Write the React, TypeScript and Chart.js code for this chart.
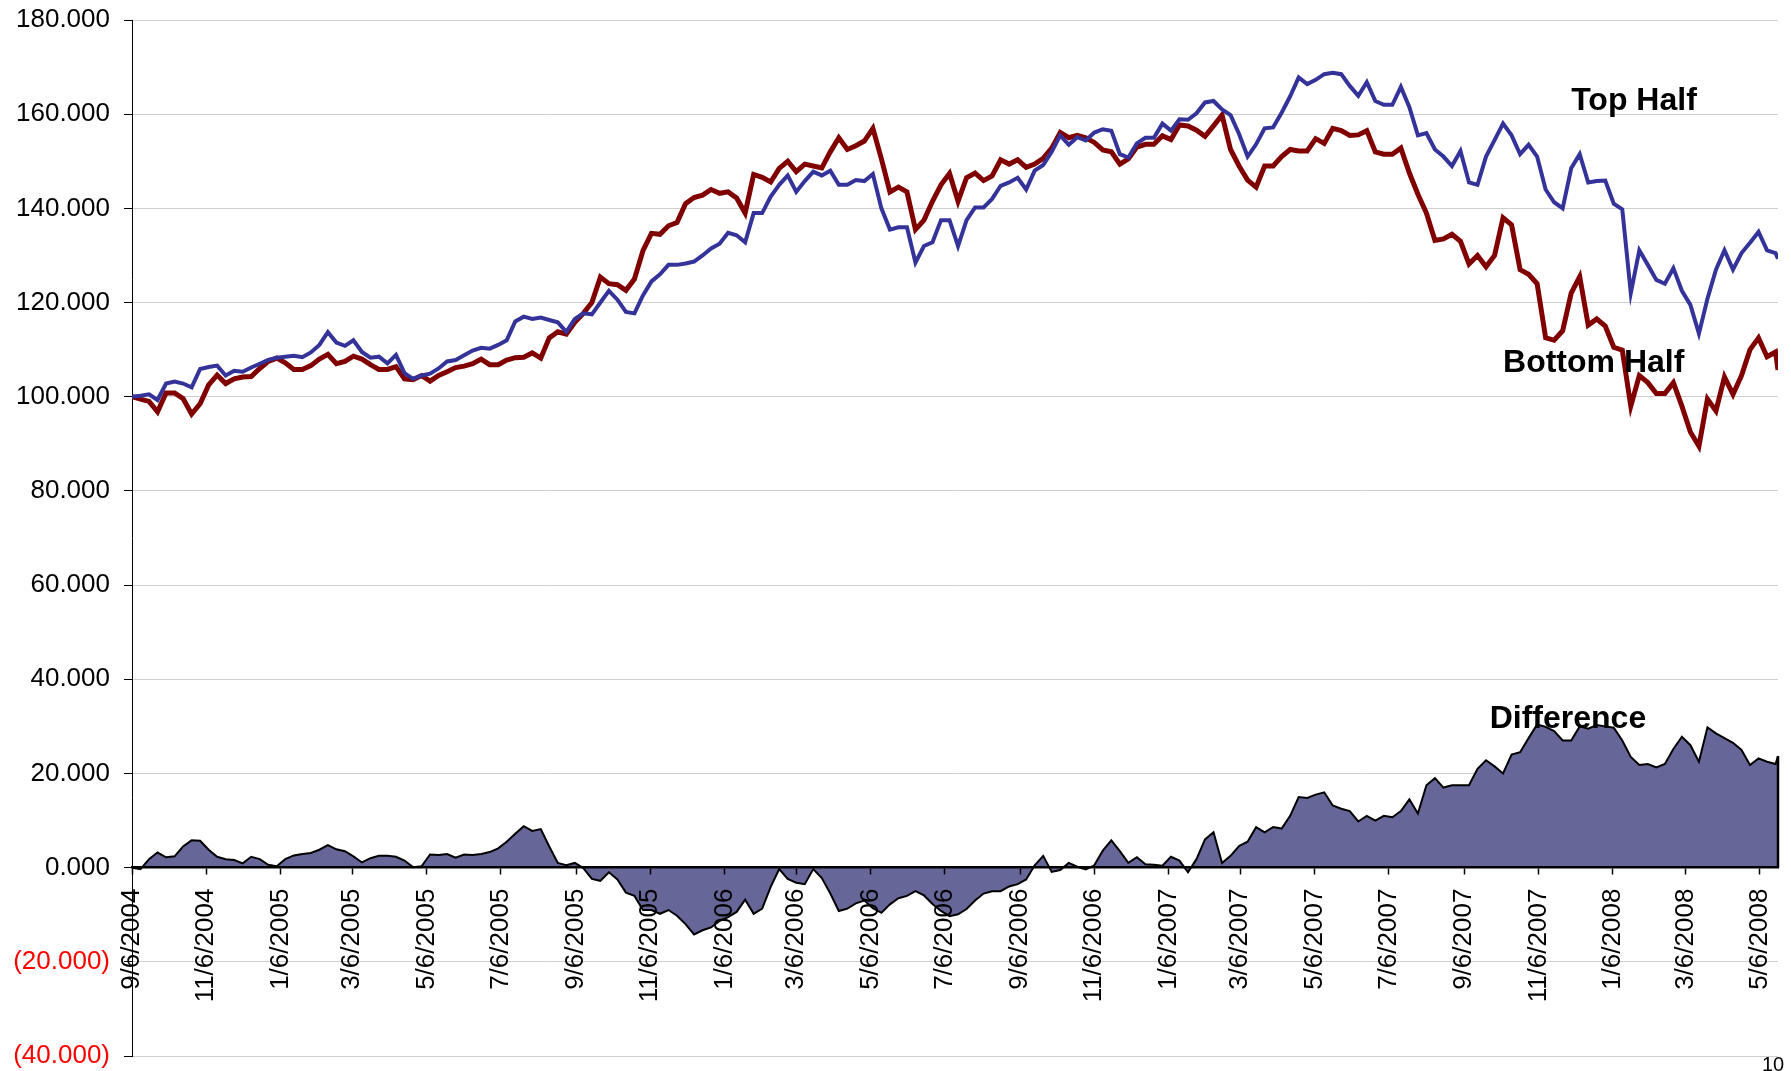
import React, { useEffect, useRef } from "react";
import { Chart, registerables } from "chart.js";

Chart.register(...registerables);

// ---------- data ----------
const START_DATE = "9/6/2004";
const WEEKLY_POINTS = 194; // one observation per week from START_DATE
const LAST_DATE = "5/21/2008"; // final observation

const TICK_LABELS = [
  "9/6/2004", "11/6/2004", "1/6/2005", "3/6/2005", "5/6/2005", "7/6/2005",
  "9/6/2005", "11/6/2005", "1/6/2006", "3/6/2006", "5/6/2006", "7/6/2006",
  "9/6/2006", "11/6/2006", "1/6/2007", "3/6/2007", "5/6/2007", "7/6/2007",
  "9/6/2007", "11/6/2007", "1/6/2008", "3/6/2008", "5/6/2008",
];

const TOP_HALF = [
  100.0, 100.2, 100.5, 99.3, 102.8, 103.2, 102.8, 102.0, 105.9, 106.3,
  106.6, 104.5, 105.5, 105.3, 106.2, 107.0, 107.8, 108.3, 108.5, 108.7,
  108.4, 109.4, 111.0, 113.7, 111.5, 110.8, 112.0, 109.5, 108.3, 108.5,
  107.1, 108.9, 105.0, 103.8, 104.5, 104.9, 106.0, 107.5, 107.8, 108.8,
  109.8, 110.4, 110.2, 111.0, 112.0, 116.0, 117.0, 116.5, 116.8, 116.3,
  115.8, 113.8, 116.5, 117.7, 117.5, 120.0, 122.5, 120.6, 118.0, 117.7,
  121.5, 124.5, 126.0, 128.0, 128.0, 128.3, 128.7, 130.0, 131.5, 132.5,
  134.8, 134.3, 132.8, 139.0, 139.0, 142.5, 145.0, 147.0, 143.5, 145.8,
  147.8, 147.0, 148.0, 145.0, 145.0, 146.0, 145.8, 147.3, 140.0, 135.5,
  136.0, 136.0, 128.5, 132.0, 132.8, 137.5, 137.5, 132.0, 137.5, 140.2,
  140.2, 142.0, 144.8, 145.5, 146.5, 144.0, 148.0, 149.2, 152.0, 155.5,
  153.5, 155.1, 154.4, 156.1, 156.8, 156.5, 151.5, 150.8, 153.8, 155.0,
  155.0, 158.0, 156.5, 158.9, 158.8, 160.2, 162.5, 162.8, 161.0, 159.8,
  155.8, 151.0, 153.6, 157.0, 157.2, 160.3, 163.8, 167.8, 166.4, 167.3,
  168.5, 168.8, 168.5, 166.0, 163.9, 166.8, 162.8, 162.0, 162.0, 165.8,
  161.5, 155.5, 156.0, 152.5, 151.0, 149.0, 152.2, 145.5, 145.0, 151.0,
  154.5, 158.0, 155.5, 151.5, 153.5, 151.0, 144.0, 141.3, 140.0, 148.5,
  151.5, 145.5, 145.8, 145.9, 141.0, 139.8, 122.0, 131.1, 128.0, 124.8,
  124.0, 127.3, 122.5, 119.5, 113.4, 120.8, 127.0, 131.1, 127.0, 130.5,
  132.7, 135.0, 131.1, 130.5,
  129.3,
];

const BOTTOM_HALF = [
  100.0, 99.5, 99.0, 96.8, 100.8, 100.8, 99.6, 96.3, 98.5, 102.5,
  104.6, 102.8, 103.8, 104.2, 104.3, 106.0, 107.5, 108.2, 107.2, 105.8,
  105.8, 106.6, 108.0, 109.0, 107.0, 107.5, 108.6, 108.0, 106.8, 105.8,
  105.8, 106.4, 103.8, 103.6, 104.5, 103.3, 104.5, 105.3, 106.2, 106.5,
  107.0, 108.0, 106.8, 106.8, 107.8, 108.3, 108.4, 109.3, 108.2, 112.5,
  113.8, 113.3, 115.8, 117.7, 120.0, 125.4, 124.0, 123.8, 122.6, 125.0,
  131.0, 134.7, 134.5, 136.3, 137.0, 141.0, 142.3, 142.8, 144.0, 143.2,
  143.5, 142.2, 139.0, 147.2, 146.6, 145.6, 148.5, 150.0, 147.8, 149.4,
  149.0, 148.6, 152.0, 155.0, 152.5, 153.3, 154.3, 157.0, 150.5, 143.5,
  144.5, 143.5, 135.5, 137.5, 141.5, 145.0, 147.4, 141.5, 146.5, 147.5,
  145.9, 146.9, 150.3, 149.4, 150.3, 148.7, 149.4, 150.6, 152.8, 156.1,
  155.0, 155.5, 155.0, 154.0, 152.4, 152.0, 149.4, 150.5, 153.0, 153.6,
  153.6, 155.4, 154.6, 157.7, 157.5, 156.6, 155.3, 157.5, 159.8, 152.5,
  149.0, 146.0, 144.5, 149.0, 149.0, 151.0, 152.5, 152.2, 152.2, 154.8,
  153.8, 157.0, 156.5, 155.5, 155.6, 156.5, 152.0, 151.5, 151.5, 152.8,
  147.5, 143.0, 139.0, 133.2, 133.5, 134.5, 133.0, 128.2, 130.0, 127.6,
  130.0, 138.0, 136.5, 127.0, 126.0, 124.0, 112.5, 112.0, 114.0, 122.0,
  125.5, 115.2, 116.5, 115.0, 110.5, 109.9, 98.0, 104.5, 103.0, 100.7,
  100.7, 103.0, 98.0, 92.5, 89.5, 99.5, 97.0, 104.2, 100.5, 104.5,
  110.0, 112.5, 108.5, 109.5,
  105.7,
];

const DIFFERENCE = [
  0.0, -0.3, 1.8, 3.2, 2.2, 2.4, 4.5, 5.8, 5.7, 3.8,
  2.3, 1.8, 1.6, 0.9, 2.3, 1.8, 0.6, 0.3, 1.8, 2.6,
  2.9, 3.1, 3.8, 4.8, 3.9, 3.5, 2.4, 1.1, 2.0, 2.5,
  2.5, 2.3, 1.5, 0.1, 0.3, 2.8, 2.7, 2.9, 2.1, 2.8,
  2.7, 2.9, 3.3, 4.1, 5.5, 7.2, 8.8, 7.8, 8.2, 4.5,
  1.0, 0.5, 1.0, -0.1, -2.4, -2.8, -1.0, -2.5, -5.3, -6.0,
  -9.0, -9.0, -9.8, -9.0, -10.2, -12.0, -14.2, -13.3, -12.7, -11.3,
  -10.5, -9.4, -6.8, -9.8, -8.7, -4.1, -0.3, -2.4, -3.2, -3.5,
  -0.3, -2.2, -5.5, -9.2, -8.7, -7.6, -7.0, -8.6, -9.6, -7.8,
  -6.5, -6.0, -5.0, -5.9, -7.7, -9.2, -10.3, -9.9, -8.8, -7.0,
  -5.5, -5.0, -5.0, -4.0, -3.5, -2.5, 0.5, 2.5, -0.9, -0.5,
  1.0, 0.2, -0.4, 0.5, 3.6, 5.8, 3.5, 1.0, 2.2, 0.7,
  0.6, 0.4, 2.3, 1.5, -1.0, 1.8, 6.0, 7.5, 1.0, 2.5,
  4.6, 5.5, 8.6, 7.5, 8.6, 8.3, 11.0, 15.0, 14.8, 15.5,
  16.0, 13.2, 12.5, 12.0, 9.8, 11.0, 10.0, 11.0, 10.7, 12.0,
  14.5, 11.5, 17.5, 19.0, 17.0, 17.5, 17.5, 17.5, 21.0, 22.8,
  21.5, 20.0, 24.0, 24.5, 27.5, 30.4, 29.9, 29.0, 27.0, 27.0,
  30.0, 29.5, 30.3, 30.0, 29.7, 27.0, 23.5, 21.8, 22.0, 21.3,
  22.0, 25.2, 27.8, 26.0, 22.5, 29.8, 28.5, 27.5, 26.5, 25.0,
  21.8, 23.2, 22.5, 22.0,
  23.7,
];

const Y_MIN = -40;
const Y_MAX = 180;
const Y_STEP = 20;

// series name labels, anchored in data units (date, value of text baseline)
const SERIES_LABELS = [
  { text: "Top Half", date: "12/3/2007", value: 160.9 },
  { text: "Bottom Half", date: "10/8/2007", value: 105.2 },
  { text: "Difference", date: "9/27/2007", value: 29.6 },
];

// ---------- helpers ----------
const MS_DAY = 86400000;
function parseDate(s: string): number {
  const [m, d, y] = s.split("/").map(Number);
  return Date.UTC(y, m - 1, d);
}
const START_MS = parseDate(START_DATE);
const toDay = (s: string) => Math.round((parseDate(s) - START_MS) / MS_DAY);

const SAMPLE_DAYS: number[] = [];
for (let i = 0; i < WEEKLY_POINTS; i++) SAMPLE_DAYS.push(i * 7);
SAMPLE_DAYS.push(toDay(LAST_DATE));

const TICK_DAYS = TICK_LABELS.map(toDay);

const pts = (vals: number[]) => vals.map((v, i) => ({ x: SAMPLE_DAYS[i], y: v }));

const FONT = "'Liberation Sans', Arial, Helvetica, sans-serif";

function fmtY(v: number): string {
  const s = Math.abs(v).toFixed(3);
  return v < 0 ? `(${s})` : s;
}

const overlayPlugin = {
  id: "overlayLabels",
  afterDatasetsDraw(chart: any) {
    const { ctx, scales } = chart;
    const x = scales.x;
    const y = scales.y;
    const last = SAMPLE_DAYS.length - 1;
    const px = x.getPixelForValue(SAMPLE_DAYS[last]);
    ctx.save();
    ctx.strokeStyle = "#000000";
    ctx.lineWidth = 2.5;
    ctx.beginPath();
    ctx.moveTo(px, y.getPixelForValue(DIFFERENCE[last]));
    ctx.lineTo(px, y.getPixelForValue(0));
    ctx.stroke();
    ctx.restore();
  },
  afterDraw(chart: any) {
    const { ctx, scales } = chart;
    const x = scales.x;
    const y = scales.y;
    ctx.save();
    ctx.font = `bold 32px ${FONT}`;
    ctx.fillStyle = "#000000";
    ctx.textAlign = "left";
    ctx.textBaseline = "alphabetic";
    for (const l of SERIES_LABELS) {
      ctx.fillText(l.text, x.getPixelForValue(toDay(l.date)), y.getPixelForValue(l.value));
    }
    ctx.restore();
  },
};

export default function App() {
  const canvasRef = useRef<HTMLCanvasElement | null>(null);

  useEffect(() => {
    const canvas = canvasRef.current;
    if (!canvas) return;
    const chart = new Chart(canvas, {
      type: "line",
      data: {
        datasets: [
          {
            label: "Top Half",
            data: pts(TOP_HALF),
            borderColor: "#333399",
            borderWidth: 4,
            pointRadius: 0,
            fill: false,
            tension: 0,
          },
          {
            label: "Bottom Half",
            data: pts(BOTTOM_HALF),
            borderColor: "#800000",
            borderWidth: 5,
            pointRadius: 0,
            fill: false,
            tension: 0,
          },
          {
            label: "Difference",
            data: pts(DIFFERENCE),
            borderColor: "#000000",
            borderWidth: 2,
            backgroundColor: "#666699",
            pointRadius: 0,
            fill: "origin",
            tension: 0,
          },
        ],
      },
      options: {
        responsive: false,
        animation: false,
        events: [],
        layout: { padding: { left: 0, top: 20, right: 13, bottom: 15 } },
        plugins: {
          legend: { display: false },
          tooltip: { enabled: false },
          title: { display: false },
        },
        scales: {
          x: {
            type: "linear",
            position: { y: 0 },
            min: 0,
            max: SAMPLE_DAYS[SAMPLE_DAYS.length - 1],
            afterBuildTicks: (scale: any) => {
              scale.ticks = TICK_DAYS.map((v) => ({ value: v }));
            },
            afterFit: (scale: any) => {
              scale.paddingLeft = 0;
              scale.paddingRight = 0;
              scale.paddingTop = 0;
              scale.paddingBottom = 0;
            },
            ticks: {
              autoSkip: false,
              minRotation: 90,
              maxRotation: 90,
              padding: 15,
              color: "#000000",
              font: { family: FONT, size: 26 },
              z: 2,
              callback: (_v: any, i: number) => TICK_LABELS[i],
            },
            grid: {
              display: true,
              drawOnChartArea: false,
              drawTicks: true,
              tickLength: 6,
              tickColor: "#000000",
              tickWidth: 1.5,
              z: 2,
            },
            border: { display: true, color: "#000000", width: 2.5, z: 2 },
          },
          y: {
            type: "linear",
            min: Y_MIN,
            max: Y_MAX,
            afterFit: (scale: any) => {
              scale.width = 132;
              scale.paddingTop = 0;
              scale.paddingBottom = 0;
              scale.paddingLeft = 0;
              scale.paddingRight = 0;
            },
            ticks: {
              stepSize: Y_STEP,
              padding: 14,
              font: { family: FONT, size: 26 },
              color: (ctx: any) => (ctx.tick && ctx.tick.value < 0 ? "#ff0000" : "#000000"),
              callback: (v: any) => fmtY(Number(v)),
            },
            grid: {
              color: "#cfcfcf",
              lineWidth: 1,
              tickLength: 8,
              tickColor: "#000000",
            },
            border: { display: true, color: "#000000", width: 1 },
          },
        },
      },
      plugins: [overlayPlugin],
    });
    return () => chart.destroy();
  }, []);

  return (
    <div
      style={{
        position: "fixed",
        left: 0,
        top: 0,
        width: 1791,
        height: 1071,
        overflow: "hidden",
        background: "#ffffff",
      }}
    >
      <canvas ref={canvasRef} width={1791} height={1071} style={{ display: "block" }} />
      <div
        style={{
          position: "absolute",
          left: 1762,
          top: 1054,
          fontFamily: FONT,
          fontSize: 20,
          lineHeight: "20px",
          color: "#000000",
        }}
      >
        10
      </div>
    </div>
  );
}
